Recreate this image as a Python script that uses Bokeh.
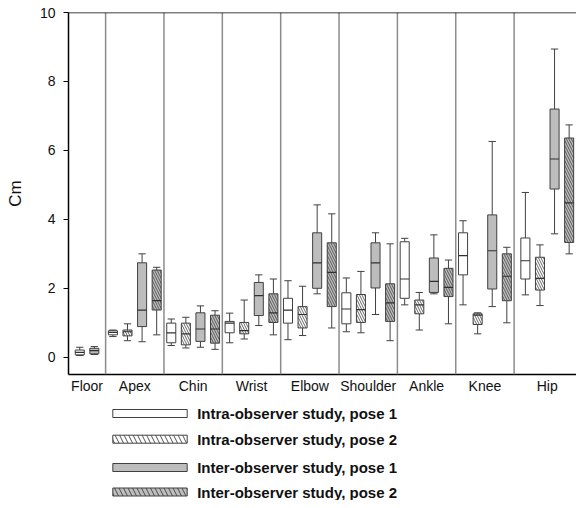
from bokeh.plotting import figure
from bokeh.models import Range1d, FixedTicker, Span, ColumnDataSource
from bokeh.layouts import column
from bokeh.core.properties import value
from bokeh.embed import file_html
from bokeh.resources import INLINE

# ---------------- data ----------------
categories = ["Floor", "Apex", "Chin", "Wrist", "Elbow", "Shoulder", "Ankle", "Knee", "Hip"]

# (lower whisker, Q1, median, Q3, upper whisker) per category, None = not measured
intra_pose1 = [(0.05, 0.07, 0.14, 0.21, 0.29),
               (0.60, 0.65, 0.72, 0.77, 0.79),
               (0.34, 0.42, 0.71, 0.99, 1.11),
               (0.42, 0.71, 0.99, 1.04, 1.28),
               (0.51, 0.99, 1.37, 1.71, 2.22),
               (0.74, 0.97, 1.40, 1.87, 2.30),
               (1.52, 1.71, 2.27, 3.35, 3.45),
               (1.52, 2.39, 2.95, 3.61, 3.96),
               (1.81, 2.27, 2.80, 3.46, 4.78)]
intra_pose2 = [None,
               (0.48, 0.62, 0.74, 0.79, 0.97),
               (0.27, 0.36, 0.68, 0.99, 1.16),
               (0.53, 0.68, 0.77, 1.01, 1.66),
               (0.63, 0.85, 1.24, 1.47, 2.06),
               (0.71, 1.01, 1.38, 1.82, 2.49),
               (0.79, 1.26, 1.52, 1.66, 1.88),
               (0.68, 0.95, 1.22, 1.26, 1.29),
               (1.50, 1.95, 2.29, 2.90, 3.26)]
inter_pose1 = [(0.08, 0.10, 0.19, 0.26, 0.31),
               (0.45, 0.89, 1.37, 2.74, 3.00),
               (0.29, 0.46, 0.82, 1.29, 1.49),
               (0.92, 1.21, 1.79, 2.17, 2.39),
               (1.84, 2.00, 2.74, 3.61, 4.42),
               (1.24, 2.01, 2.74, 3.32, 3.61),
               (1.84, 1.88, 2.20, 2.88, 3.55),
               (1.47, 1.98, 3.09, 4.13, 6.26),
               (3.58, 4.88, 5.75, 7.20, 8.94)]
inter_pose2 = [None,
               (0.65, 1.37, 1.64, 2.53, 2.61),
               (0.23, 0.41, 0.82, 1.22, 1.35),
               (0.65, 1.01, 1.29, 1.84, 2.27),
               (0.85, 1.47, 2.46, 3.32, 4.16),
               (0.48, 1.04, 1.58, 2.13, 3.29),
               (0.97, 1.76, 2.03, 2.58, 2.82),
               (1.00, 1.64, 2.35, 3.00, 3.19),
               (3.00, 3.33, 4.48, 6.36, 6.74)]

series_labels = ["Intra-observer study, pose 1", "Intra-observer study, pose 2",
                 "Inter-observer study, pose 1", "Inter-observer study, pose 2"]
y_ticks = [0, 2, 4, 6, 8, 10]

# ---------------- styles ----------------
series = [intra_pose1, intra_pose2, inter_pose1, inter_pose2]
fills = ["white", "white", "#bdbdbd", "#bdbdbd"]
hatches = [" ", "\\", " ", "\\"]
EDGE = "#404040"
FONT = "Liberation Sans"
W = 576
LEFT = 68

# ---------------- layout of the categorical axis ----------------
PAD = 0.544
n_cat = len(categories)
present = [[s for s in range(4) if series[s][i] is not None] for i in range(n_cat)]
centers, dividers = [], []
pos = [dict() for _ in range(4)]
start = 0.0
for i in range(n_cat):
    n = len(present[i])
    w = n + (PAD if i == 0 else 0) + (PAD if i == n_cat - 1 else 0)
    c = start + w / 2
    centers.append(c)
    for j, s in enumerate(present[i]):
        pos[s][i] = c + (j - (n - 1) / 2)
    start += w
    if i < n_cat - 1:
        dividers.append(start)

p = figure(width=W, height=400, output_backend="svg", toolbar_location=None,
           x_range=Range1d(0, 34.82), y_range=Range1d(-0.5, 10.0),
           min_border_left=LEFT, min_border_right=0, min_border_top=12, min_border_bottom=26)
p.xgrid.visible = False
p.ygrid.visible = False
p.outline_line_color = None

for d in dividers:
    p.add_layout(Span(location=d, dimension="height", line_color="#8c8c8c", line_width=1.5))
p.add_layout(Span(location=10.0, dimension="width", line_color="black", line_width=1.5))

BW = 0.62
CW = 0.5
for s in range(4):
    xs, lo, q1, md, q3, hi = [], [], [], [], [], []
    for i in range(n_cat):
        v = series[s][i]
        if v is None:
            continue
        xs.append(pos[s][i]); lo.append(v[0]); q1.append(v[1]); md.append(v[2]); q3.append(v[3]); hi.append(v[4])
    src = ColumnDataSource(dict(x=xs, lo=lo, q1=q1, md=md, q3=q3, hi=hi,
                                xl=[x - CW / 2 for x in xs], xr=[x + CW / 2 for x in xs],
                                bl=[x - BW / 2 for x in xs], br=[x + BW / 2 for x in xs]))
    p.segment(x0="x", y0="q3", x1="x", y1="hi", source=src, line_color=EDGE, line_width=1)
    p.segment(x0="x", y0="q1", x1="x", y1="lo", source=src, line_color=EDGE, line_width=1)
    p.segment(x0="xl", y0="hi", x1="xr", y1="hi", source=src, line_color=EDGE, line_width=1)
    p.segment(x0="xl", y0="lo", x1="xr", y1="lo", source=src, line_color=EDGE, line_width=1)
    p.vbar(x="x", width=BW, bottom="q1", top="q3", source=src, fill_color=fills[s],
           line_color=EDGE, line_width=1, hatch_pattern=hatches[s], hatch_color=EDGE,
           hatch_scale=5, hatch_weight=0.8)
    p.segment(x0="bl", y0="md", x1="br", y1="md", source=src, line_color="#303030", line_width=1.2)

# axes
p.yaxis.ticker = FixedTicker(ticks=y_ticks)
p.yaxis.minor_tick_line_color = None
p.yaxis.major_tick_in = 0
p.yaxis.major_tick_out = 5
p.yaxis.major_label_standoff = 8
p.yaxis.axis_line_color = "black"
p.yaxis.axis_line_width = 1.5
p.yaxis.major_tick_line_color = "black"
p.yaxis.major_label_text_font = FONT
p.yaxis.major_label_text_font_size = "14px"
p.yaxis.major_label_text_color = "#111111"
p.yaxis.axis_label = "Cm"
p.yaxis.axis_label_text_font = FONT
p.yaxis.axis_label_text_font_size = "17px"
p.yaxis.axis_label_text_font_style = "normal"
p.yaxis.axis_label_text_color = "#111111"
p.yaxis.axis_label_standoff = 12

p.xaxis.ticker = FixedTicker(ticks=centers)
p.xaxis.major_label_overrides = {c: name for c, name in zip(centers, categories)}
p.xaxis.minor_tick_line_color = None
p.xaxis.major_tick_line_color = None
p.xaxis.major_tick_in = 0
p.xaxis.major_tick_out = 0
p.xaxis.major_label_standoff = 3
p.xaxis.axis_line_color = "black"
p.xaxis.axis_line_width = 1.5
p.xaxis.major_label_text_font = FONT
p.xaxis.major_label_text_font_size = "14px"
p.xaxis.major_label_text_color = "#111111"

# ---------------- legend panel (frame aligned with main frame; units = canvas px) ----------------
lg = figure(width=W, height=100, output_backend="svg", toolbar_location=None,
            x_range=Range1d(LEFT, W), y_range=Range1d(100, 0),
            min_border_left=LEFT, min_border_right=0, min_border_top=0, min_border_bottom=0)
lg.axis.visible = False
lg.grid.visible = False
lg.outline_line_color = None

row_y = [13, 38.7, 67, 91.5]
lsrc = ColumnDataSource(dict(y=row_y, fill=fills, hatch=hatches, label=series_labels))
lg.rect(x=149.5, y="y", width=74.4, height=8, source=lsrc, fill_color="fill",
        line_color=EDGE, line_width=1, hatch_pattern="hatch", hatch_color=EDGE,
        hatch_scale=9, hatch_weight=0.9)
lg.text(x=196.7, y="y", text="label", source=lsrc, text_font=value(FONT),
        text_font_size="15px", text_font_style="bold", text_baseline="middle",
        text_align="left", text_color="#111111")

layout = column(p, lg, spacing=0)
open("out.html", "w").write(file_html(layout, INLINE))
